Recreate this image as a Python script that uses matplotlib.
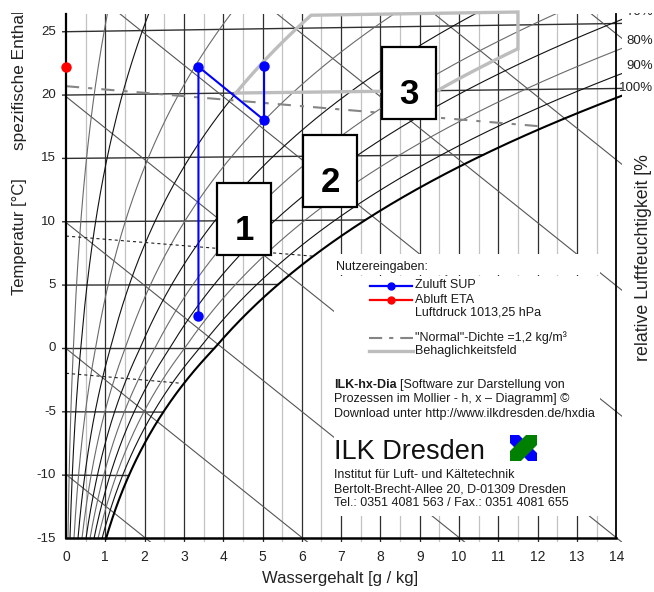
import numpy as np
import matplotlib
matplotlib.use('Agg')
import matplotlib.pyplot as plt
from matplotlib.patches import Rectangle, Polygon
from matplotlib.lines import Line2D
from matplotlib.transforms import Bbox, TransformedBbox

plt.rcParams['font.family'] = ['Liberation Sans', 'DejaVu Sans']
plt.rcParams['lines.scale_dashes'] = False

# ---------------- data ----------------
P_AIR = 101325.0
x_ticks = list(range(0, 15))
t_ticks = [-15, -10, -5, 0, 5, 10, 15, 20, 25]
isotherms = [-10, -5, 0, 5, 10, 15, 20, 25]
enthalpies = [-10, 0, 10, 20, 30, 40, 50, 60]
rh_levels = [5, 10, 20, 30, 40, 50, 60, 70, 80, 90]
rh_labels = [70, 80, 90, 100]

dens_normal_x = [0.0, 12.0]
dens_normal_y = [20.7, 17.55]
dens_125_x = [0.0, 6.3]
dens_125_y = [8.87, 7.28]
dens_130_x = [0.0, 2.94]
dens_130_y = [-1.96, -2.75]

comfort_t = [20, 26]
comfort_rh = [30, 65]
comfort_xmax = 11.5

sup_x = [3.37, 3.37, 5.04, 5.04]
sup_t = [2.54, 22.1, 17.86, 22.05]
eta_x = [0.0]
eta_t = [22.2]

box_labels = ['1', '2', '3']
box_cx = [4.53, 6.72, 8.73]
box_cy = [10.18, 14.0, 20.95]


# ---------------- physics helpers ----------------
def psat(t):
    t = np.asarray(t, float)
    return np.where(t >= 0, 611.2 * np.exp(17.62 * t / (243.12 + t)),
                    611.2 * np.exp(22.46 * t / (272.62 + t)))


def x_of(t, rh):
    pv = rh / 100.0 * psat(t)
    return 622.0 * pv / (P_AIR - pv)


def Yc(t, x):
    return np.asarray(t) * (1.006 + 1.86 * np.asarray(x) / 1000.0) / 1.006


def t_at_x(xv, rh):
    tt = np.linspace(-20, 40, 6001)
    return float(np.interp(xv, x_of(tt, rh), tt))


# ---------------- figure ----------------
W, H = 654, 592
def fx(px):
    return px / W
def fy(py):
    return 1 - py / H

fig = plt.figure(figsize=(W / 100, H / 100), dpi=100)
X0, SX = 66.0, 39.3
Y25, SY = 31.7, 12.67
xl, xr = -0.1, 14.15
yb, yt = -15.3, 26.4
lpx = X0 + xl * SX
rpx = X0 + xr * SX
tpx = Y25 - (yt - 25) * SY
bpx = Y25 + (25 - yb) * SY
ax = fig.add_axes([fx(lpx), fy(bpx), (rpx - lpx) / W, (bpx - tpx) / H])
ax.set_xlim(xl, xr)
ax.set_ylim(yb, yt)
ax.axis('off')

# vertical grid
for xv in np.arange(0.5, 14.0, 0.5):
    if abs(xv - round(xv)) < 1e-9:
        ax.plot([xv, xv], [yb, yt], color='#2e2e2e', lw=0.9, zorder=1.2)
    else:
        ax.plot([xv, xv], [yb, yt], color='#c2c2c2', lw=0.9, zorder=1)

# isotherms
for t in isotherms:
    xend = min(float(x_of(t, 100)), xr)
    xs = np.linspace(-0.1, xend, 60)
    ax.plot(xs, Yc(t, xs), color='#303030', lw=1.0, zorder=2)

# enthalpy lines
xs = np.linspace(0, xr, 100)
for h in enthalpies:
    ax.plot(xs, (h - 2.501 * xs) / 1.006, color='#555555', lw=0.8, zorder=2)

# RH curves
tt = np.linspace(-15, 32, 800)
for i, rh in enumerate(rh_levels):
    xx = x_of(tt, rh)
    col = '#111111' if i % 2 == 1 else '#6a6a6a'
    ax.plot(xx, Yc(tt, xx), color=col, lw=0.8, zorder=2.2)

# saturation
xx = x_of(tt, 100)
ax.plot(xx, Yc(tt, xx), color='black', lw=1.5, zorder=3)

# density lines
ax.plot(dens_normal_x, dens_normal_y, color='#858585', lw=1.5,
        dashes=(9.5, 6.5, 3, 6.5), zorder=2.5)
ax.plot(dens_125_x, dens_125_y, color='#222222', lw=0.8, dashes=(2.2, 2.2), zorder=2.5)
ax.plot(dens_130_x, dens_130_y, color='#222222', lw=0.8, dashes=(2.2, 2.2), zorder=2.5)

# axes lines
ax.plot([0, 0], [-15, yt], color='black', lw=1.6, zorder=4, clip_on=False)
ax.plot([0, 14], [-15, -15], color='black', lw=1.8, zorder=4, clip_on=False)
ax.plot([14, 14], [-15, yt], color='black', lw=1.3, zorder=4, clip_on=False)

# comfort field
t_lo, t_hi = comfort_t
rh_lo, rh_hi = comfort_rh
t_corner = t_at_x(comfort_xmax, rh_hi)
seg_b_x = np.linspace(float(x_of(t_lo, rh_lo)), float(x_of(t_lo, rh_hi)), 20)
seg_b_y = Yc(t_lo, seg_b_x)
tr = np.linspace(t_lo, t_corner, 30)
seg_r1_x = x_of(tr, rh_hi)
seg_r1_y = Yc(tr, seg_r1_x)
seg_r2_y = Yc(np.array([t_corner, t_hi]), comfort_xmax)
seg_r2_x = np.array([comfort_xmax, comfort_xmax])
seg_t_x = np.linspace(comfort_xmax, float(x_of(t_hi, rh_lo)), 20)
seg_t_y = Yc(t_hi, seg_t_x)
tl = np.linspace(t_hi, t_lo, 30)
seg_l_x = x_of(tl, rh_lo)
seg_l_y = Yc(tl, seg_l_x)
cx = np.concatenate([seg_b_x, seg_r1_x, seg_r2_x, seg_t_x, seg_l_x])
cy = np.concatenate([seg_b_y, seg_r1_y, seg_r2_y, seg_t_y, seg_l_y])
ax.plot(cx, cy, color='#bdbdbd', lw=2.4, zorder=3.5, clip_on=False,
        solid_joinstyle='miter')

# legend white boxes (layout)
ax.add_patch(Rectangle((6.82, 5.76), 13.59 - 6.82, 7.49 - 5.76, fc='white', ec='none', zorder=4.2))
ax.add_patch(Rectangle((6.82, -13.22), 13.59 - 6.82, 5.68 + 13.22, fc='white', ec='none', zorder=4.2))

# process
ax.plot(sup_x, Yc(sup_t, sup_x), color='#0000ff', lw=1.5, marker='o', ms=6.5,
        zorder=5, clip_on=False)
ax.plot(eta_x, Yc(eta_t, eta_x), color='#ff0000', lw=1.5, marker='o', ms=6.5,
        zorder=5, clip_on=False)

# boxes 1-3
bw, bh = 54 / SX, 72 / SY
for lab, bx, by in zip(box_labels, box_cx, box_cy):
    ax.add_patch(Rectangle((bx - bw / 2, by - bh / 2), bw, bh, fc='white', ec='black',
                           lw=1.6, zorder=6, clip_on=False))
    ax.text(bx, by - 20.5 / SY, lab, fontsize=25, fontweight='bold', ha='center',
            va='baseline', zorder=7)

# clip region for texts (top cut)
clipbox = TransformedBbox(Bbox([[0, 0], [1, fy(12.5)]]), fig.transFigure)

# tick labels
for v in t_ticks:
    ax.text(-0.25, v, str(v), ha='right', va='center', fontsize=9.5, color='#222222')
for v in x_ticks:
    ax.text(v, 25 - (557 - Y25) / SY, str(v), ha='center', va='center', fontsize=10,
            color='#222222')

# RH labels at right
for rh in rh_labels:
    tv = t_at_x(14.0, rh)
    yv = float(Yc(tv, 14.0)) + 0.78
    txt = ax.text((653 - X0) / SX, yv, f'{rh}%', ha='right', va='center', fontsize=9.5,
                  color='#222222')
    txt.set_clip_box(clipbox)
    txt.set_clip_on(True)

# axis labels
fig.text(fx(340), fy(578), 'Wassergehalt [g / kg]', ha='center', va='center', fontsize=12,
         color='#222222')
fig.text(fx(20), fy(236.5), 'Temperatur [°C]', rotation=90, ha='center', va='center',
         fontsize=12, color='#222222')
t_e = fig.text(fx(20), fy(150), 'spezifische Enthalpie [kJ/kg]', rotation=90, ha='center',
               va='bottom', fontsize=12.4, color='#222222')
t_e.set_clip_box(clipbox)
t_e.set_clip_on(True)
fig.text(fx(644), fy(257.5), 'relative Luftfeuchtigkeit [%', rotation=90, ha='center',
         va='center', fontsize=12.8, color='#222222')

# legend content
fs = 9
fig.text(fx(336), fy(267), 'Nutzereingaben:', fontsize=fs, va='center', color='#1a1a1a')
fig.add_artist(Line2D([fx(370), fx(412)], [fy(285.5)] * 2, color='#0000ff', lw=1.6))
fig.add_artist(Line2D([fx(391)], [fy(285.5)], color='#0000ff', marker='o', ms=5))
fig.text(fx(415), fy(285.5), 'Zuluft SUP', fontsize=fs, va='center', color='#1a1a1a')
fig.add_artist(Line2D([fx(370), fx(412)], [fy(300)] * 2, color='#ff0000', lw=1.6))
fig.add_artist(Line2D([fx(391)], [fy(300)], color='#ff0000', marker='o', ms=5))
fig.text(fx(415), fy(300), 'Abluft ETA', fontsize=fs, va='center', color='#1a1a1a')
fig.text(fx(415), fy(312.5), 'Luftdruck 1013,25 hPa', fontsize=fs, va='center', color='#1a1a1a')
fig.add_artist(Line2D([fx(369), fx(413)], [fy(338.3)] * 2, color='#858585', lw=1.5,
                      dashes=(9.5, 5, 3, 5)))
fig.text(fx(415), fy(338), '"Normal"-Dichte =1,2 kg/m³', fontsize=fs, va='center',
         color='#1a1a1a')
fig.add_artist(Line2D([fx(369), fx(413)], [fy(350.7)] * 2, color='#bdbdbd', lw=2.4))
fig.text(fx(415), fy(351), 'Behaglichkeitsfeld', fontsize=fs, va='center', color='#1a1a1a')

t1 = fig.text(fx(334), fy(385), 'ILK-hx-Dia', fontsize=fs, fontweight='bold', va='center',
              color='#1a1a1a')
renderer = fig.canvas.get_renderer()
bb = t1.get_window_extent(renderer)
fig.text(bb.x1 / W + fx(3), fy(385), '[Software zur Darstellung von', fontsize=fs,
         va='center', color='#1a1a1a')
fig.text(fx(334), fy(399.3), 'Prozessen im Mollier - h, x – Diagramm] ©', fontsize=fs,
         va='center', color='#1a1a1a')
fig.text(fx(334), fy(414), 'Download unter http://www.ilkdresden.de/hxdia', fontsize=fs,
         va='center', color='#1a1a1a')
fig.text(fx(334), fy(451.7), 'ILK Dresden', fontsize=19.5, va='center', color='#111111')
fig.text(fx(334), fy(475), 'Institut für Luft- und Kältetechnik', fontsize=fs, va='center',
         color='#1a1a1a')
fig.text(fx(334), fy(489.3), 'Bertolt-Brecht-Allee 20, D-01309 Dresden', fontsize=fs,
         va='center', color='#1a1a1a')
fig.text(fx(334), fy(502.7), 'Tel.: 0351 4081 563 / Fax.: 0351 4081 655', fontsize=fs,
         va='center', color='#1a1a1a')

# logo
blue_pts = [(510, 435), (519, 435), (537, 453), (537, 461), (528, 461), (510, 443)]
green_pts = [(510, 461), (510, 451), (526, 435), (537, 435), (537, 445), (521, 461)]
fig.add_artist(Polygon([(fx(a), fy(b)) for a, b in blue_pts], closed=True, fc='#0000ff',
                       ec='none', transform=fig.transFigure))
fig.add_artist(Polygon([(fx(a), fy(b)) for a, b in green_pts], closed=True, fc='#008000',
                       ec='none', transform=fig.transFigure))

fig.savefig('out.png', dpi=100)
